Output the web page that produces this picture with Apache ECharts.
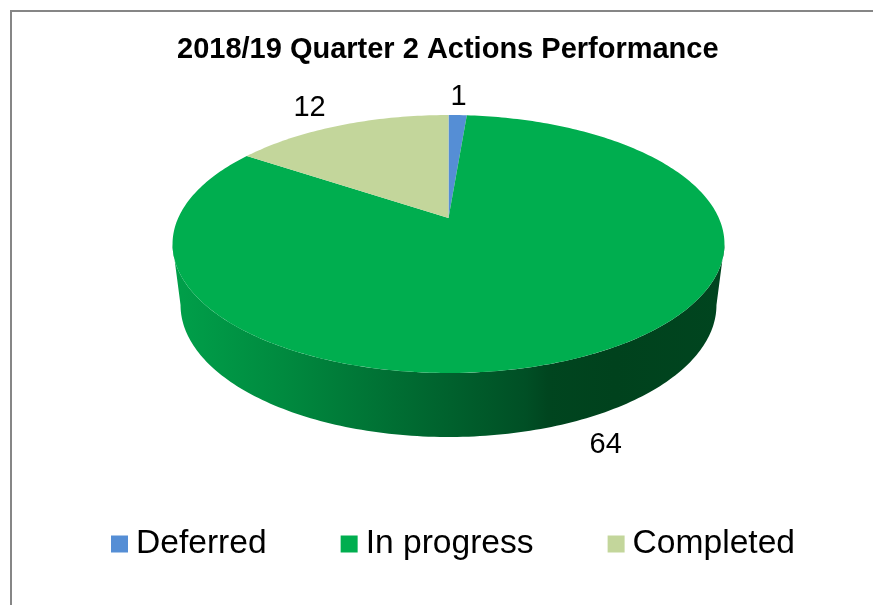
<!DOCTYPE html>
<html>
<head>
<meta charset="utf-8">
<style>
  html, body { margin: 0; padding: 0; background: #fff; }
  #chart { width: 873px; height: 605px; }
</style>
<script src="https://cdn.jsdelivr.net/npm/echarts@6/dist/echarts.min.js"></script>
</head>
<body>
<div id="chart"></div>
<script>
// values
const categories = ['Deferred', 'In progress', 'Completed']
const values = [1, 64, 12]
const colors = ['#558ED5', '#00AE4F', '#C3D69B']
const chartTitle = '2018/19 Quarter 2 Actions Performance'

// label offset from the slice's rim point, px
const labelOffsets = [[1, -18], [18, 27], [-31, -17.5]]

// perspective disc: top face ellipse and the rim ellipse below it
const disc = { cx: 448.5, apexY: 218, a: -79.8, persp: 0.2016, k: 270.3, ellipseY: 244, rimY: 305, sx: 268 / 276, sy: 132 / 129 }
const total = values.reduce((s, v) => s + v, 0)
const toRad = Math.PI / 180
// wall only shows between the left and right silhouette points of the disc
const wallFrom = Math.acos(-disc.persp) / toRad
const wallTo = 360 - wallFrom

function topPoint (deg) {
  let u = Math.sin(deg * toRad)
  let v = Math.cos(deg * toRad)
  let w = 1 + disc.persp * v
  return [disc.cx + disc.k * u / w, (disc.a * v + disc.apexY) / w]
}

function rimPoint (deg) {
  let p = topPoint(deg)
  return [disc.cx + (p[0] - disc.cx) * disc.sx, disc.rimY + (p[1] - disc.ellipseY) * disc.sy]
}

function arc (from, to, fn) {
  let pts = []
  let n = Math.max(2, Math.ceil(Math.abs(to - from)))
  for (let i = 0; i <= n; i++) pts.push(fn(from + (to - from) * i / n))
  return pts
}

const wallFill = new echarts.graphic.LinearGradient(172, 0, 725, 0, [
  { offset: 0, color: '#00A04A' },
  { offset: 0.2, color: '#008A3F' },
  { offset: 0.42, color: '#006C32' },
  { offset: 0.64, color: '#004F25' },
  { offset: 0.68, color: '#00451F' },
  { offset: 0.8, color: '#00421D' },
  { offset: 1, color: '#00451F' }
], true)

function sliceRenderer (index) {
  let start = values.slice(0, index).reduce((s, v) => s + v, 0) / total * 360
  let end = start + values[index] / total * 360
  let mid = (start + end) / 2
  return function () {
    let children = []
    let wFrom = Math.max(start, wallFrom)
    let wTo = Math.min(end, wallTo)
    if (wTo > wFrom) {
      children.push({
        type: 'polygon',
        shape: { points: arc(wFrom, wTo, topPoint).concat(arc(wTo, wFrom, rimPoint)) },
        style: { fill: wallFill }
      })
    }
    children.push({
      type: 'polygon',
      shape: { points: [[disc.cx, disc.apexY]].concat(arc(start, end, topPoint)) },
      style: { fill: colors[index] }
    })
    let anchor = (mid > wallFrom && mid < wallTo) ? rimPoint(mid) : topPoint(mid)
    children.push({
      type: 'text',
      style: {
        x: anchor[0] + labelOffsets[index][0],
        y: anchor[1] + labelOffsets[index][1],
        text: String(values[index]),
        fill: '#000',
        font: '29px "Liberation Sans"',
        align: 'center',
        verticalAlign: 'middle'
      }
    })
    return { type: 'group', children }
  }
}

let chart = echarts.init(document.getElementById('chart'), null, { renderer: 'canvas' })
chart.setOption({
  animation: false,
  color: colors,
  title: {
    text: chartTitle,
    left: 172,
    top: 30,
    textStyle: { fontFamily: 'Liberation Sans', fontSize: 29, fontWeight: 'bold', color: '#000' }
  },
  legend: {
    left: 106,
    top: 522,
    icon: 'rect',
    itemWidth: 17,
    itemHeight: 17,
    itemGap: 74,
    data: categories,
    textStyle: { fontFamily: 'Liberation Sans', fontSize: 33.6, color: '#000', padding: [0, 0, 0, 3] }
  },
  graphic: [{
    type: 'rect',
    silent: true,
    shape: { x: 11, y: 11, width: 900, height: 700 },
    style: { fill: 'none', stroke: '#868686', lineWidth: 2 }
  }],
  series: categories.map((name, i) => ({
    name,
    type: 'custom',
    coordinateSystem: 'none',
    itemStyle: { color: colors[i] },
    renderItem: sliceRenderer(i),
    data: [values[i]]
  }))
})
</script>
</body>
</html>
